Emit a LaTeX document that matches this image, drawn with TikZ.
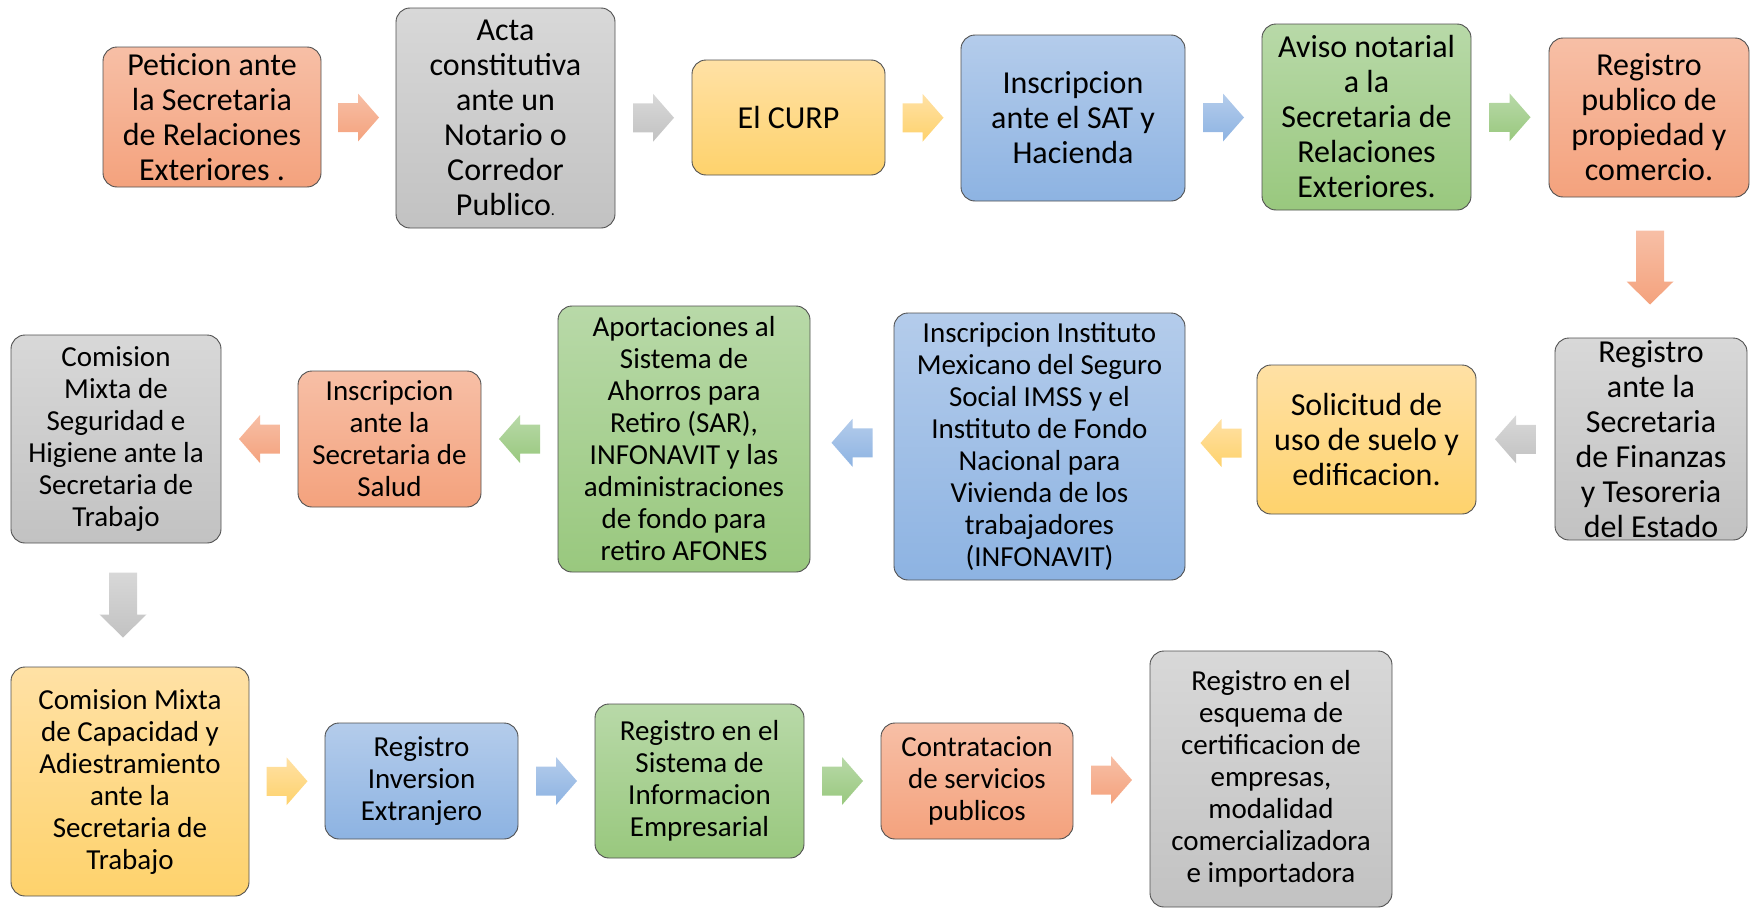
\documentclass[tikz,border=0pt]{standalone}
\usepackage{fontspec}
\setmainfont{Carlito}
\usetikzlibrary{calc}
\definecolor{orT}{HTML}{F7BFA6}\definecolor{orB}{HTML}{F4A27D}
\definecolor{grT}{HTML}{D8D8D8}\definecolor{grB}{HTML}{C2C2C2}
\definecolor{yeT}{HTML}{FFE1A5}\definecolor{yeB}{HTML}{FED26C}
\definecolor{blT}{HTML}{B4CCEB}\definecolor{blB}{HTML}{8DB3E2}
\definecolor{gnT}{HTML}{B8D9A8}\definecolor{gnB}{HTML}{99C87E}
\definecolor{edge}{HTML}{505050}
\tikzset{
  box/.style={rectangle, rounded corners=14pt, draw=edge, line width=0.9pt,
    align=center, inner sep=0pt, text=black},
  big/.style={font=\fontsize{32}{35}\selectfont},
  small/.style={font=\fontsize{29}{32}\selectfont},
  orf/.style={top color=orT, bottom color=orB},
  grf/.style={top color=grT, bottom color=grB},
  yef/.style={top color=yeT, bottom color=yeB},
  blf/.style={top color=blT, bottom color=blB},
  gnf/.style={top color=gnT, bottom color=gnB},
}
\newcommand\blockR[2]{\begin{scope}[shift={(#1)}]\shade[#2, draw=none] (-20.5,-14.5) -- (-0.5,-14.5) -- (-0.5,-24) -- (20.5,0) -- (-0.5,24) -- (-0.5,14.5) -- (-20.5,14.5) -- cycle;\end{scope}}
\newcommand\blockL[2]{\begin{scope}[shift={(#1)}]\shade[#2, draw=none] (20.5,-14.5) -- (0.5,-14.5) -- (0.5,-24) -- (-20.5,0) -- (0.5,24) -- (0.5,14.5) -- (20.5,14.5) -- cycle;\end{scope}}
\newcommand\blockD[3]{\begin{scope}[shift={(#1)}]\shade[#2, draw=none] (-14,{-#3/2}) -- (-14,{#3/2-23}) -- (-23.5,{#3/2-23}) -- (0,{#3/2}) -- (23.5,{#3/2-23}) -- (14,{#3/2-23}) -- (14,{-#3/2}) -- cycle;\end{scope}}
\begin{document}
\begin{tikzpicture}[x=1pt, y=-1pt]
\useasboundingbox (0,0) rectangle (1751,910);
% Row 1
\node[box, orf, big, minimum width=218, minimum height=140] (b1) at (212,117) {Peticion ante\\la Secretaria\\de Relaciones\\Exteriores .};
\node[box, grf, big, minimum width=219, minimum height=220] (b2) at (505.5,118) {Acta\\constitutiva\\ante un\\Notario o\\Corredor\\Publico{\fontsize{16}{16}\selectfont.}};
\node[box, yef, big, minimum width=193, minimum height=115] (b3) at (788.5,117.5) {El CURP};
\node[box, blf, big, minimum width=224, minimum height=166] (b4) at (1073,118) {Inscripcion\\ante el SAT y\\Hacienda};
\node[box, gnf, big, minimum width=209, minimum height=186] (b5) at (1366.5,117) {Aviso notarial\\a la\\Secretaria de\\Relaciones\\Exteriores.};
\node[box, orf, big, minimum width=200, minimum height=159] (b6) at (1649,117.5) {Registro\\publico de\\propiedad y\\comercio.};
% Row 2
\node[box, grf, big, minimum width=192, minimum height=202] (b7) at (1651,439) {Registro\\ante la\\Secretaria\\de Finanzas\\y Tesoreria\\del Estado};
\node[box, yef, big, minimum width=219, minimum height=149] (b8) at (1366.5,439.5) {Solicitud de\\uso de suelo y\\edificacion.};
\node[box, blf, small, minimum width=291, minimum height=267] (b9) at (1039.5,446.5) {Inscripcion Instituto\\Mexicano del Seguro\\Social IMSS y el\\Instituto de Fondo\\Nacional para\\Vivienda de los\\trabajadores\\(INFONAVIT)};
\node[box, gnf, small, minimum width=252, minimum height=266] (b10) at (684,439) {Aportaciones al\\Sistema de\\Ahorros para\\Retiro (SAR),\\INFONAVIT y las\\administraciones\\de fondo para\\retiro AFONES};
\node[box, orf, small, minimum width=183, minimum height=136] (b11) at (389.5,439) {Inscripcion\\ante la\\Secretaria de\\Salud};
\node[box, grf, small, minimum width=210, minimum height=208] (b12) at (116,439) {Comision\\Mixta de\\Seguridad e\\Higiene ante la\\Secretaria de\\Trabajo};
% Row 3
\node[box, yef, small, minimum width=238, minimum height=229] (b13) at (130,781.5) {Comision Mixta\\de Capacidad y\\Adiestramiento\\ante la\\Secretaria de\\Trabajo};
\node[box, blf, small, minimum width=193, minimum height=116] (b14) at (421.5,781) {Registro\\Inversion\\Extranjero};
\node[box, gnf, small, minimum width=209, minimum height=154] (b15) at (699.5,781) {Registro en el\\Sistema de\\Informacion\\Empresarial};
\node[box, orf, small, minimum width=192, minimum height=116] (b16) at (977,781) {Contratacion\\de servicios\\publicos};
\node[box, grf, small, minimum width=242, minimum height=256] (b17) at (1271,779) {Registro en el\\esquema de\\certificacion de\\empresas,\\modalidad\\comercializadora\\e importadora};
% arrow anchor points
\coordinate (a1) at ($(b1.east)!0.5!(b2.west)$);
\coordinate (a2) at ($(b2.east)!0.5!(b3.west)$);
\coordinate (a3) at ($(b3.east)!0.5!(b4.west)$);
\coordinate (a4) at ($(b4.east)!0.5!(b5.west)$);
\coordinate (a5) at ($(b5.east)!0.5!(b6.west)$);
\coordinate (a6) at ($(b6.south)!0.5!(b7.north)$);
\coordinate (a7) at ($(b7.west)!0.5!(b8.east)$);
\coordinate (a8) at ($(b8.west)!0.5!(b9.east)$);
\coordinate (a9) at ($(b9.west)!0.5!(b10.east)$);
\coordinate (a10) at ($(b10.west)!0.5!(b11.east)$);
\coordinate (a11) at ($(b11.west)!0.5!(b12.east)$);
\coordinate (a12) at ($(b12.south)!0.5!(b13.north)$);
\coordinate (a13) at ($(b13.east)!0.5!(b14.west)$);
\coordinate (a14) at ($(b14.east)!0.5!(b15.west)$);
\coordinate (a15) at ($(b15.east)!0.5!(b16.west)$);
\coordinate (a16) at ($(b16.east)!0.5!(b17.west)$);
\blockR{a1}{orf}
\blockR{a2}{grf}
\blockR{a3}{yef}
\blockR{a4}{blf}
\blockR{a5}{gnf}
\blockD{a6}{orf}{74}
\blockL{a7}{grf}
\blockL{a8}{yef}
\blockL{a9}{blf}
\blockL{a10}{gnf}
\blockL{a11}{orf}
\blockD{a12}{grf}{65}
\blockR{a13}{yef}
\blockR{a14}{blf}
\blockR{a15}{gnf}
\blockR{a16}{orf}
\end{tikzpicture}
\end{document}
